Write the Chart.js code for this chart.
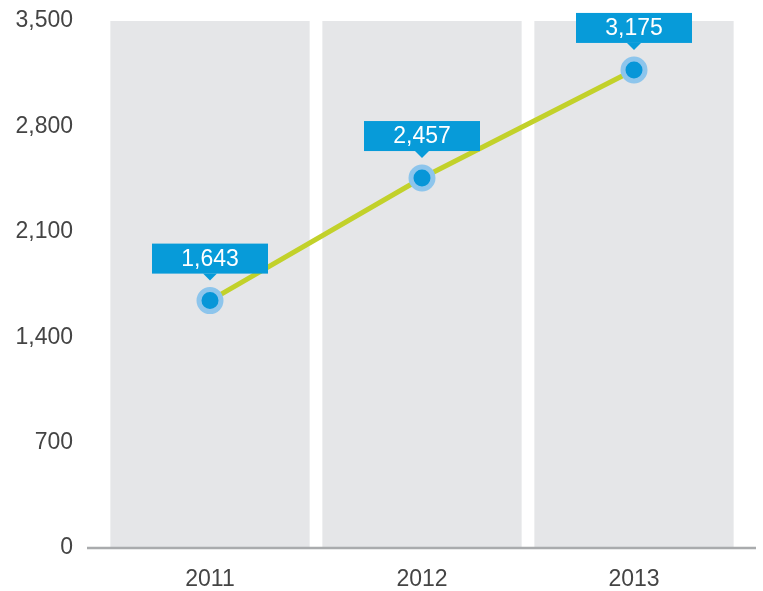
<!DOCTYPE html>
<html>
<head>
<meta charset="utf-8">
<script src="https://cdn.jsdelivr.net/npm/chart.js@4.4.1/dist/chart.umd.min.js"></script>
<style>
  html, body { margin: 0; padding: 0; background: #fff; }
  #wrap { width: 763px; height: 591px; }
</style>
</head>
<body>
<div id="wrap"><canvas id="growthChart" width="763" height="591"></canvas></div>
<script>
// Datos del gráfico
const years = ['2011', '2012', '2013'];
const values = [1643, 2457, 3175];
const yTicks = [0, 700, 1400, 2100, 2800, 3500];
// columnas grises de fondo (hasta el tope del eje)
const backdrop = [3500, 3500, 3500];

const fontFamily = '"Liberation Sans", Arial, sans-serif';

// Línea base gris bajo las columnas
const baseLine = {
  id: 'baseLine',
  afterDatasetsDraw(chart) {
    const { ctx, chartArea, scales } = chart;
    const y = scales.y.getPixelForValue(0);
    ctx.save();
    ctx.strokeStyle = '#a9abad';
    ctx.lineWidth = 2.5;
    ctx.beginPath();
    ctx.moveTo(chartArea.left - 17, y);
    ctx.lineTo(chartArea.right + 16, y);
    ctx.stroke();
    ctx.restore();
  }
};

// Etiquetas azules con flecha sobre cada punto
const valueTags = {
  id: 'valueTags',
  afterDatasetsDraw(chart) {
    const { ctx } = chart;
    const meta = chart.getDatasetMeta(1);
    ctx.save();
    meta.data.forEach((pt, i) => {
      const w = 116, h = 30;
      const bottom = pt.y - 27;
      const left = pt.x - w / 2;
      ctx.fillStyle = '#079bd9';
      ctx.fillRect(left, bottom - h, w, h);
      ctx.beginPath();
      ctx.moveTo(pt.x - 7, bottom);
      ctx.lineTo(pt.x + 7, bottom);
      ctx.lineTo(pt.x, bottom + 7);
      ctx.closePath();
      ctx.fill();
      ctx.fillStyle = '#ffffff';
      ctx.font = '23px ' + fontFamily;
      ctx.textAlign = 'center';
      ctx.textBaseline = 'middle';
      ctx.fillText(values[i].toLocaleString('en-US'), pt.x, bottom - h / 2 + 1);
    });
    ctx.restore();
  }
};

const ctx = document.getElementById('growthChart').getContext('2d');
new Chart(ctx, {
  data: {
    labels: years,
    datasets: [
      {
        type: 'bar',
        data: backdrop,
        backgroundColor: '#e5e6e8',
        barPercentage: 1,
        categoryPercentage: 0.94,
        order: 2
      },
      {
        type: 'line',
        data: values,
        borderColor: '#c2d12a',
        borderWidth: 5,
        pointRadius: 11,
        pointHoverRadius: 11,
        pointBorderWidth: 5,
        pointBackgroundColor: '#0796d8',
        pointBorderColor: '#8dc5ec',
        tension: 0,
        order: 1
      }
    ]
  },
  options: {
    responsive: false,
    animation: false,
    events: [],
    layout: { padding: { top: 21, right: 23, bottom: 0, left: 0 } },
    plugins: {
      legend: { display: false },
      tooltip: { enabled: false }
    },
    scales: {
      x: {
        grid: { display: false, drawTicks: false },
        border: { display: false },
        ticks: {
          color: '#444',
          font: { family: fontFamily, size: 23 },
          padding: 18
        },
        afterFit(scale) { scale.height = 43; }
      },
      y: {
        min: 0,
        max: 3500,
        afterBuildTicks(scale) {
          scale.ticks = yTicks.map(v => ({ value: v }));
        },
        grid: { display: false, drawTicks: false },
        border: { display: false },
        ticks: {
          color: '#444',
          font: { family: fontFamily, size: 23 },
          padding: 31,
          callback: v => v.toLocaleString('en-US')
        },
        afterFit(scale) {
          scale.width = 104;
          scale.paddingTop = 0;
          scale.paddingBottom = 0;
        }
      }
    }
  },
  plugins: [baseLine, valueTags]
});
</script>
</body>
</html>
